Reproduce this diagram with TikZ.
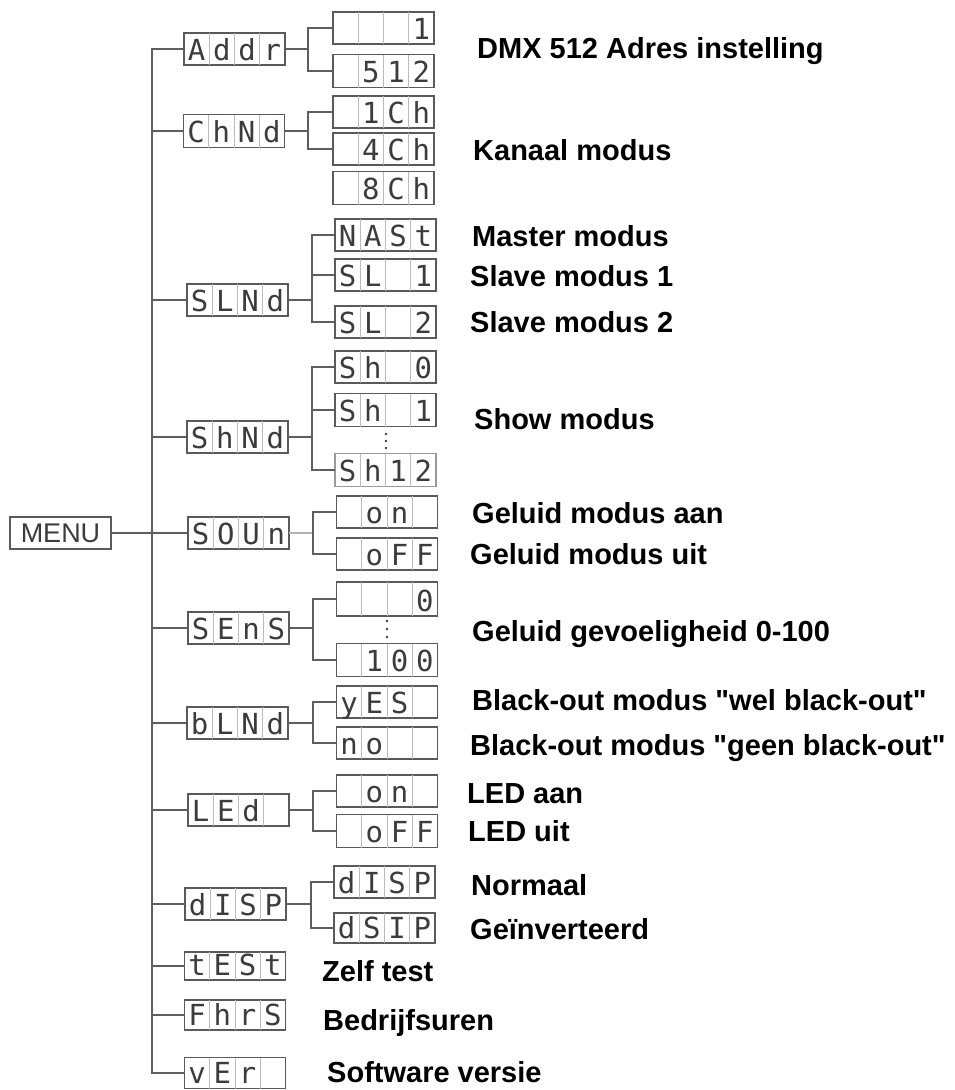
\documentclass[tikz,border=0pt]{standalone}
\usepackage{fontspec}
\setmainfont{Liberation Sans}
\newfontfamily\labfont{Liberation Sans}
\newfontfamily\lcdfont{DejaVu Sans Mono}
\usetikzlibrary{calc}
\definecolor{lcdline}{HTML}{5A5A5A}
\definecolor{cellsep}{HTML}{BBBBBB}
\definecolor{lcdtext}{HTML}{3C3C3C}
\definecolor{wire}{HTML}{5E5E5E}
\tikzset{
 lcdbox/.style={draw=lcdline, line width=1.3pt, minimum width=101pt, minimum height=32pt, inner sep=0pt, outer sep=0pt},
 cellline/.style={draw=cellsep, line width=0.9pt},
 lcdch/.style={font=\lcdfont\fontsize{29}{29}\selectfont, text=lcdtext, inner sep=0pt, anchor=base},
 wireline/.style={draw=wire, line width=1.3pt},
 lab/.style={font=\labfont\bfseries\fontsize{29}{30}\selectfont, anchor=base west, inner sep=0pt, text=black},
}
\newcommand\lcd[7][]{%
  \node[lcdbox,#1] (#2) at (#3) {};
  \foreach \k in {1,2,3}{\draw[cellline] ($(#2.north west)!\k/4!(#2.north east)$) -- ($(#2.south west)!\k/4!(#2.south east)$);}
  \node[lcdch] (#2-a) at ($(#2.south west)!0.125!(#2.south east)+(0,-5)$) {#4};
  \node[lcdch] (#2-b) at ($(#2.south west)!0.375!(#2.south east)+(0,-5)$) {#5};
  \node[lcdch] (#2-c) at ($(#2.south west)!0.625!(#2.south east)+(0,-5)$) {#6};
  \node[lcdch] (#2-d) at ($(#2.south west)!0.875!(#2.south east)+(0,-5)$) {#7};
}
\begin{document}
\begin{tikzpicture}[x=1pt,y=-1pt]
\useasboundingbox (0,0) rectangle (954,1090);
% MENU
\node[draw=lcdline, line width=1.3pt, minimum width=101pt, minimum height=32pt, inner sep=0pt, outer sep=0pt, font=\fontsize{27}{27}\selectfont, text=lcdtext] (menu) at (60.5,533) {MENU};
% level 1
\lcd{addr}{234.5,49}{A}{d}{d}{r}
\lcd[minimum height=33pt]{chnd}{234,131}{C}{h}{N}{d}
\lcd{slnd}{237.5,300}{S}{L}{N}{d}
\lcd{shnd}{237.5,437}{S}{h}{N}{d}
\lcd{soun}{238.5,533}{S}{O}{U}{n}
\lcd{sens}{238.5,628}{S}{E}{n}{S}
\lcd{blnd}{237.5,723}{b}{L}{N}{d}
\lcd{led}{238.5,810}{L}{E}{d}{}
\lcd{disp}{235.5,904}{d}{I}{S}{P}
\lcd[minimum height=28pt]{test}{235,966}{t}{E}{S}{t}
\lcd[minimum height=30pt]{fhrs}{235,1015}{F}{h}{r}{S}
\lcd[minimum height=31pt]{ver}{235,1073}{v}{E}{r}{}
% level 2
\lcd{addr1}{383.5,28}{}{}{}{1}
\lcd[minimum height=33pt]{addr2}{383.5,71}{}{5}{1}{2}
\lcd{chnd1}{383.5,112}{}{1}{C}{h}
\lcd{chnd2}{383.5,149}{}{4}{C}{h}
\lcd[minimum height=33pt]{chnd3}{383.5,188}{}{8}{C}{h}
\lcd{slnd1}{385.5,235}{N}{A}{S}{t}
\lcd{slnd2}{385.5,275}{S}{L}{}{1}
\lcd{slnd3}{385.5,322}{S}{L}{}{2}
\lcd{shnd1}{385.5,367}{S}{h}{}{0}
\lcd[minimum height=33pt]{shnd2}{385.5,410}{S}{h}{}{1}
\lcd[minimum height=33pt, draw=gray!80]{shnd3}{385.5,470}{S}{h}{1}{2}
\lcd{soun1}{387,512}{}{o}{n}{}
\lcd{soun2}{387,554}{}{o}{F}{F}
\lcd[minimum height=34pt]{sens1}{387,599}{}{}{}{0}
\lcd[minimum height=33pt]{sens2}{387,660}{}{1}{0}{0}
\lcd{blnd1}{387,702}{y}{E}{S}{}
\lcd{blnd2}{387,743}{n}{o}{}{}
\lcd{led1}{387,791}{}{o}{n}{}
\lcd[minimum height=33pt]{led2}{387,831}{}{o}{F}{F}
\lcd{disp1}{384.5,882}{d}{I}{S}{P}
\lcd[minimum height=30pt]{disp2}{384.5,928}{d}{S}{I}{P}
% dots
\foreach \d in {0,1,2}{\fill[lcdtext] (386,434+7*\d) circle (1.3pt);}
\foreach \d in {0,1,2}{\fill[lcdtext] (387,621+8*\d) circle (1.3pt);}
% trunk
\coordinate (tt) at (152,49);
\draw[wireline] (addr.west) -- (tt) |- (ver.west);
\foreach \n in {chnd,slnd,shnd,soun,sens,blnd,led,disp,test,fhrs}{\draw[wireline] (\n.west) -- (\n.west -| tt);}
\draw[wireline] (menu.east) -- (menu.east -| tt);
% branches
\coordinate (ja) at (308,49);
\draw[wireline] (addr.east) -- (ja);
\draw[wireline] (addr1.west) -| (ja) |- (addr2.west);
\coordinate (jc) at (308,131);
\draw[wireline] (chnd.east) -- (jc);
\draw[wireline] (chnd1.west) -| (jc) |- (chnd2.west);
\coordinate (js) at (312,300);
\draw[wireline] (slnd.east) -- (js);
\draw[wireline] (slnd1.west) -| (js) |- (slnd3.west);
\draw[wireline] (slnd2.west) -- (slnd2.west -| js);
\coordinate (jh) at (312,437);
\draw[wireline] (shnd.east) -- (jh);
\draw[wireline] (shnd1.west) -| (jh) |- (shnd3.west);
\draw[wireline] (shnd2.west) -- (shnd2.west -| jh);
\coordinate (jo) at (313,533);
\draw[wireline, draw=gray!60] (soun.east) -- (jo);
\draw[wireline] (soun1.west) -| (jo) |- (soun2.west);
\coordinate (je) at (313,628);
\draw[wireline] (sens.east) -- (je);
\draw[wireline] (sens1.west) -| (je) |- (sens2.west);
\coordinate (jb) at (313,723);
\draw[wireline] (blnd.east) -- (jb);
\draw[wireline] (blnd1.west) -| (jb) |- (blnd2.west);
\coordinate (jl) at (313,810);
\draw[wireline] (led.east) -- (jl);
\draw[wireline] (led1.west) -| (jl) |- (led2.west);
\coordinate (jd) at (311,904);
\draw[wireline] (disp.east) -- (jd);
\draw[wireline] (disp1.west) -| (jd) |- (disp2.west);
% labels
\node[lab] (t1) at (477,58) {DMX 512 Adres instelling};
\node[lab] (t2) at (473,160) {Kanaal modus};
\node[lab] (t3) at (472,246) {Master modus};
\node[lab] (t4) at (470,286) {Slave modus 1};
\node[lab] (t5) at (470,332) {Slave modus 2};
\node[lab] (t6) at (474,429) {Show modus};
\node[lab] (t7) at (472,523) {Geluid modus aan};
\node[lab] (t8) at (470,564) {Geluid modus uit};
\node[lab] (t9) at (472,641) {Geluid gevoeligheid 0-100};
\node[lab] (t10) at (472,710) {Black-out modus "wel black-out"};
\node[lab] (t11) at (470,755) {Black-out modus "geen black-out"};
\node[lab] (t12) at (467,803) {LED aan};
\node[lab] (t13) at (468,841) {LED uit};
\node[lab] (t14) at (471,895) {Normaal};
\node[lab] (t15) at (470,939) {Geïnverteerd};
\node[lab] (t16) at (322,981) {Zelf test};
\node[lab] (t17) at (323,1030) {Bedrijfsuren};
\node[lab] (t18) at (327,1082) {Software versie};
\end{tikzpicture}
\end{document}
